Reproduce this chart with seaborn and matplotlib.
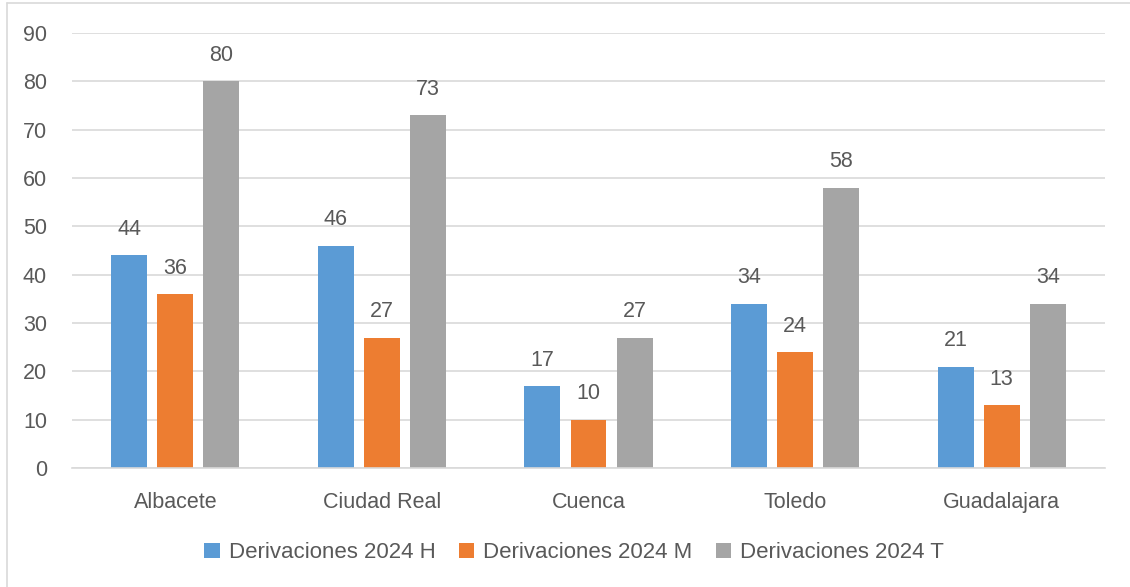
import pandas as pd
import matplotlib.pyplot as plt
import seaborn as sns
from matplotlib.lines import Line2D

# Chart data
provinces = ['Albacete', 'Ciudad Real', 'Cuenca', 'Toledo', 'Guadalajara']
series_names = ['Derivaciones 2024 H', 'Derivaciones 2024 M', 'Derivaciones 2024 T']
values_h = [44, 46, 17, 34, 21]
values_m = [36, 27, 10, 24, 13]
values_t = [80, 73, 27, 58, 34]
y_ticks = [0, 10, 20, 30, 40, 50, 60, 70, 80, 90]

COLORS = ['#5B9BD5', '#ED7D31', '#A5A5A5']
TEXT = '#595959'
GRID = '#D9D9D9'


def build_frame():
    """Long-format table for seaborn."""
    rows = []
    for name, vals in zip(series_names, [values_h, values_m, values_t]):
        for prov, v in zip(provinces, vals):
            rows.append({'provincia': prov, 'serie': name, 'valor': v})
    return pd.DataFrame(rows)


def main():
    sns.set_style('white')
    plt.rcParams['font.family'] = ['Liberation Sans', 'DejaVu Sans']

    df = build_frame()
    fig = plt.figure(figsize=(11.3, 5.87), dpi=100)
    ax = fig.add_axes([0.0637, 0.2027, 0.9142, 0.7411])

    sns.barplot(data=df, x='provincia', y='valor', hue='serie', order=provinces,
                hue_order=series_names, palette=COLORS, width=0.67, gap=0.22,
                saturation=1, linewidth=0, ax=ax, legend=True)

    for cont in ax.containers:
        ax.bar_label(cont, padding=11, fontsize=15.5, color=TEXT)

    ax.set_ylim(0, 90)
    ax.set_yticks(y_ticks)
    ax.set_xlim(-0.5, len(provinces) - 0.5)
    ax.set_xlabel('')
    ax.set_ylabel('')
    ax.yaxis.grid(True, color=GRID, linewidth=1.2)
    ax.set_axisbelow(True)
    for side in ['left', 'right', 'top']:
        ax.spines[side].set_visible(False)
    ax.spines['bottom'].set_color(GRID)
    ax.spines['bottom'].set_linewidth(1.2)
    ax.tick_params(axis='both', length=0, labelsize=15.5, colors=TEXT)
    ax.tick_params(axis='y', pad=18)
    ax.tick_params(axis='x', pad=17)

    handles, labels = ax.get_legend_handles_labels()
    ax.legend(handles, labels, loc='center', bbox_to_anchor=(0.508, 0.058),
              bbox_transform=fig.transFigure, ncol=3, frameon=False,
              fontsize=16, labelcolor=TEXT, handlelength=0.7, handleheight=0.7,
              handletextpad=0.4, columnspacing=1.05)

    # light chart-area border (left and top visible)
    fig.add_artist(Line2D([7 / 1130, 7 / 1130], [0, 1 - 3 / 587],
                          transform=fig.transFigure, color=GRID, linewidth=1.2))
    fig.add_artist(Line2D([7 / 1130, 1], [1 - 3 / 587, 1 - 3 / 587],
                          transform=fig.transFigure, color=GRID, linewidth=1.2))

    fig.savefig('out.png', dpi=100)


if __name__ == '__main__':
    main()
